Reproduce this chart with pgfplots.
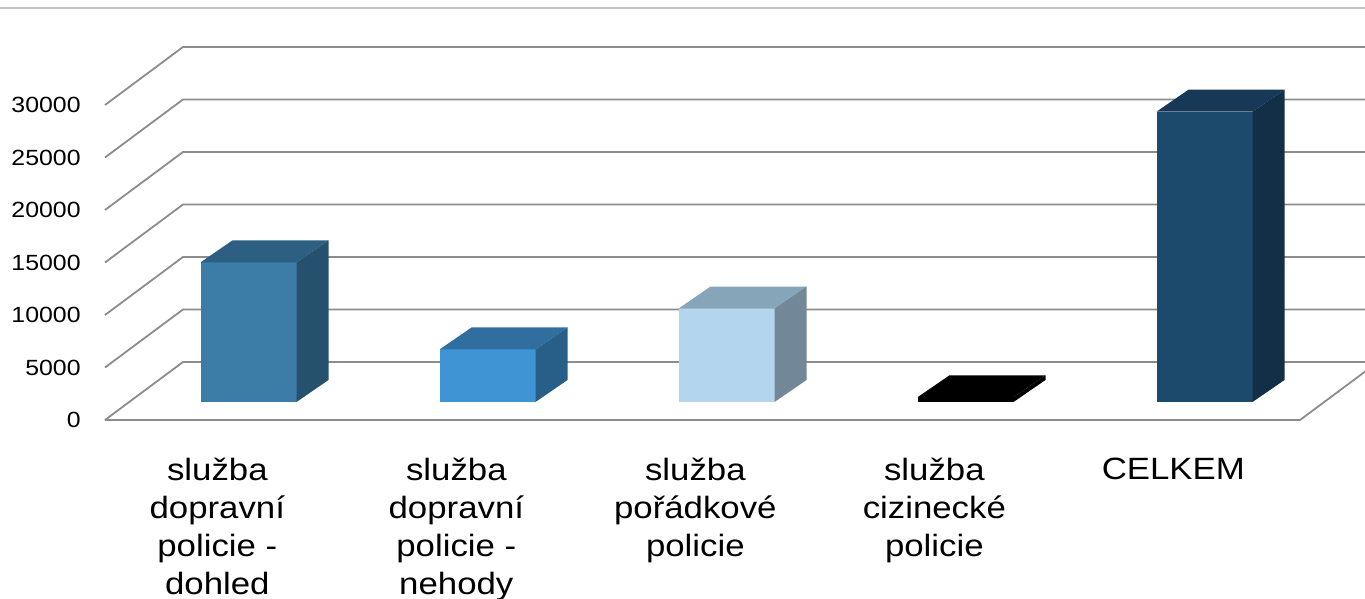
\documentclass[border=0pt]{standalone}
\usepackage{pgfplots}
\pgfplotsset{compat=1.18}
\usepackage{fontspec}
\setmainfont{Liberation Sans}[FakeStretch=1.13]

\definecolor{gridgray}{RGB}{140,140,140}
\definecolor{topgray}{RGB}{195,195,195}
\definecolor{aFront}{RGB}{60,125,168}
\definecolor{aTop}{RGB}{45,95,130}
\definecolor{aSide}{RGB}{37,80,110}
\definecolor{bFront}{RGB}{63,148,212}
\definecolor{bTop}{RGB}{47,110,159}
\definecolor{bSide}{RGB}{40,95,137}
\definecolor{cFront}{RGB}{179,213,238}
\definecolor{cTop}{RGB}{135,165,185}
\definecolor{cSide}{RGB}{114,136,153}
\definecolor{eFront}{RGB}{28,74,109}
\definecolor{eTop}{RGB}{23,57,87}
\definecolor{eSide}{RGB}{19,47,72}

% one 3D column: #1 category, #2 value, #3 front, #4 top, #5 side
\newcommand{\cuboid}[5]{%
  \pgfmathsetmacro\xa{#1-0.1004}%
  \pgfmathsetmacro\xb{#1+0.3013}%
  \pgfmathsetmacro\xc{#1+0.4352}%
  \pgfmathsetmacro\xd{#1+0.0335}%
  \edef\yf{\the\numexpr 1714+#2\relax}%
  \edef\yb{\the\numexpr 3809+#2\relax}%
  \addplot[fill=#3, draw=none] coordinates {(\xa,1714) (\xb,1714) (\xb,\yf) (\xa,\yf)} -- cycle;
  \addplot[fill=#4, draw=none] coordinates {(\xa,\yf) (\xb,\yf) (\xc,\yb) (\xd,\yb)} -- cycle;
  \addplot[fill=#5, draw=none] coordinates {(\xb,1714) (\xc,3809) (\xc,\yb) (\xb,\yf)} -- cycle;
}

\begin{document}
\begin{tikzpicture}
\begin{axis}[
  at={(0,0)}, anchor=south west,
  scale only axis, width=682.5pt, height=299.5pt,
  xmin=-0.9393, xmax=4.7720, ymin=-17048, ymax=40000,
  axis line style={draw=none}, tick style={draw=none},
  ytick={0,5000,10000,15000,20000,25000,30000},
  yticklabels={0,5000,10000,15000,20000,25000,30000},
  yticklabel style={anchor=east, inner sep=0pt, xshift=40.5pt,
                    font=\fontsize{11}{13}\selectfont},
  xtick={-0.03,0.97,1.97,2.97,3.97},
  xticklabels={{služba\\dopravní\\policie -\\dohled},
               {služba\\dopravní\\policie -\\nehody},
               {služba\\pořádkové\\policie},
               {služba\\cizinecké\\policie},
               {CELKEM}},
  xticklabel style={anchor=north, inner sep=0pt, yshift=70.5pt, align=center,
                    font=\fontsize{15.4}{19}\selectfont},
]
  % thin rule along the top
  \addplot[topgray, line width=1pt] coordinates {(-1,39238) (5,39238)};
  % side wall diagonals and back wall gridlines
  \addplot[gridgray, line width=0.9pt] coordinates {(-0.5,0) (-0.1736,5524) (5,5524)};
  \addplot[gridgray, line width=0.9pt] coordinates {(-0.5,5000) (-0.1736,10524) (5,10524)};
  \addplot[gridgray, line width=0.9pt] coordinates {(-0.5,10000) (-0.1736,15524) (5,15524)};
  \addplot[gridgray, line width=0.9pt] coordinates {(-0.5,15000) (-0.1736,20524) (5,20524)};
  \addplot[gridgray, line width=0.9pt] coordinates {(-0.5,20000) (-0.1736,25524) (5,25524)};
  \addplot[gridgray, line width=0.9pt] coordinates {(-0.5,25000) (-0.1736,30524) (5,30524)};
  \addplot[gridgray, line width=0.9pt] coordinates {(-0.5,30000) (-0.1736,35524) (5,35524)};
  % floor edges
  \addplot[gridgray, line width=0.9pt] coordinates {(-0.5,0) (4.5,0) (4.8264,5524)};
  % columns
  \cuboid{0}{13300}{aFront}{aTop}{aSide}
  \cuboid{1}{5000}{bFront}{bTop}{bSide}
  \cuboid{2}{8900}{cFront}{cTop}{cSide}
  \cuboid{3}{450}{black}{black}{black}
  \cuboid{4}{27650}{eFront}{eTop}{eSide}
\end{axis}
\pgfresetboundingbox
\useasboundingbox (current axis.south west) rectangle (current axis.north east);
\end{tikzpicture}
\end{document}
